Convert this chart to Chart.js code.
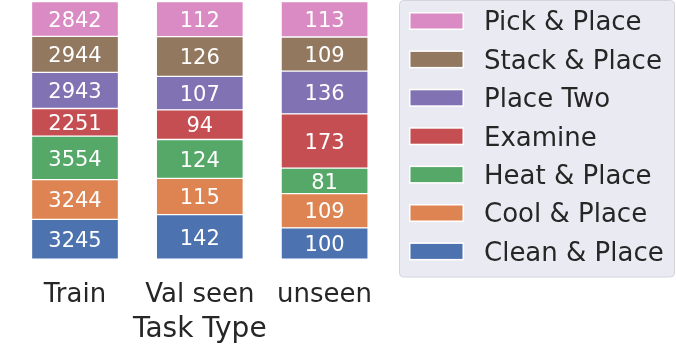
<!DOCTYPE html>
<html>
<head>
<meta charset="utf-8">
<script src="https://cdn.jsdelivr.net/npm/chart.js@4/dist/chart.umd.min.js"></script>
<style>
  html, body { margin: 0; padding: 0; background: #fff; }
  #wrap { width: 676px; height: 345px; }
</style>
</head>
<body>
<div id="wrap"><canvas id="grafico"></canvas></div>
<script>
// datos (orden de abajo hacia arriba)
const categorias = ['Train', 'Val seen', 'unseen'];
const tareas = ['Clean & Place', 'Cool & Place', 'Heat & Place', 'Examine', 'Place Two', 'Stack & Place', 'Pick & Place'];
const cleanPlace = [3245, 142, 100];
const coolPlace = [3244, 115, 109];
const heatPlace = [3554, 124, 81];
const examine = [2251, 94, 173];
const placeTwo = [2943, 107, 136];
const stackPlace = [2944, 126, 109];
const pickPlace = [2842, 112, 113];
const colores = ['#4c72b0', '#dd8452', '#55a868', '#c44e52', '#8172b3', '#937860', '#da8bc3'];

const conteos = [cleanPlace, coolPlace, heatPlace, examine, placeTwo, stackPlace, pickPlace];
const totales = categorias.map((_, i) => conteos.reduce((s, serie) => s + serie[i], 0));

const FONT = "'DejaVu Sans', sans-serif";
const TEXTO = '#262626';

// etiquetas blancas dentro de cada segmento
const etiquetasPlugin = {
  id: 'etiquetas',
  afterDatasetsDraw(chart) {
    const ctx = chart.ctx;
    ctx.save();
    ctx.fillStyle = '#fff';
    ctx.font = `21px ${FONT}`;
    ctx.textAlign = 'center';
    ctx.textBaseline = 'alphabetic';
    chart.data.datasets.forEach((ds, di) => {
      chart.getDatasetMeta(di).data.forEach((bar, i) => {
        const p = bar.getProps(['x', 'y', 'base'], true);
        const cy = (p.y + p.base) / 2;
        ctx.fillText(String(conteos[di][i]), p.x, cy + 0.729 * 21 / 2);
      });
    });
    ctx.restore();
  }
};

// leyenda con fondo gris estilo seaborn
const leyendaPlugin = {
  id: 'leyenda',
  afterDraw(chart) {
    const ctx = chart.ctx;
    const x0 = 399.5, y0 = 0.5, w = 275, h = 276.5;
    ctx.save();
    ctx.beginPath();
    ctx.roundRect(x0, y0, w, h, 4);
    ctx.fillStyle = '#eaeaf2';
    ctx.fill();
    ctx.strokeStyle = '#d4d4dc';
    ctx.lineWidth = 1;
    ctx.stroke();
    ctx.font = `26px ${FONT}`;
    ctx.textBaseline = 'alphabetic';
    const n = tareas.length;
    for (let k = 0; k < n; k++) {
      const di = n - 1 - k;
      const cy = 21 + k * 38.4;
      ctx.fillStyle = '#fff';
      ctx.fillRect(409, cy - 9, 55, 18);
      ctx.fillStyle = colores[di];
      ctx.fillRect(410.5, cy - 7.5, 52, 15);
      ctx.fillStyle = TEXTO;
      ctx.fillText(tareas[di], 484, cy + 0.729 * 26 / 2);
    }
    ctx.restore();
  }
};

new Chart(document.getElementById('grafico').getContext('2d'), {
  type: 'bar',
  data: {
    labels: categorias,
    datasets: tareas.map((t, di) => ({
      label: t,
      data: conteos[di].map((v, i) => v / totales[i] * 100),
      backgroundColor: colores[di],
      borderColor: '#fff',
      borderWidth: 1,
      borderSkipped: false,
      barThickness: 87
    }))
  },
  options: {
    responsive: true,
    maintainAspectRatio: false,
    animation: false,
    layout: { padding: { left: 12.6, right: 289, top: 1.5, bottom: 0 } },
    plugins: {
      legend: { display: false },
      tooltip: { enabled: false }
    },
    scales: {
      x: {
        stacked: true,
        grid: { display: false, drawTicks: false },
        border: { display: false },
        ticks: { padding: 20, color: TEXTO, font: { family: FONT, size: 26 } },
        title: { display: true, text: 'Task Type', color: TEXTO, padding: { top: -17, bottom: -2 }, font: { family: FONT, size: 28 } }
      },
      y: {
        stacked: true,
        display: false,
        min: 0,
        max: 100
      }
    }
  },
  plugins: [etiquetasPlugin, leyendaPlugin]
});
</script>
</body>
</html>
